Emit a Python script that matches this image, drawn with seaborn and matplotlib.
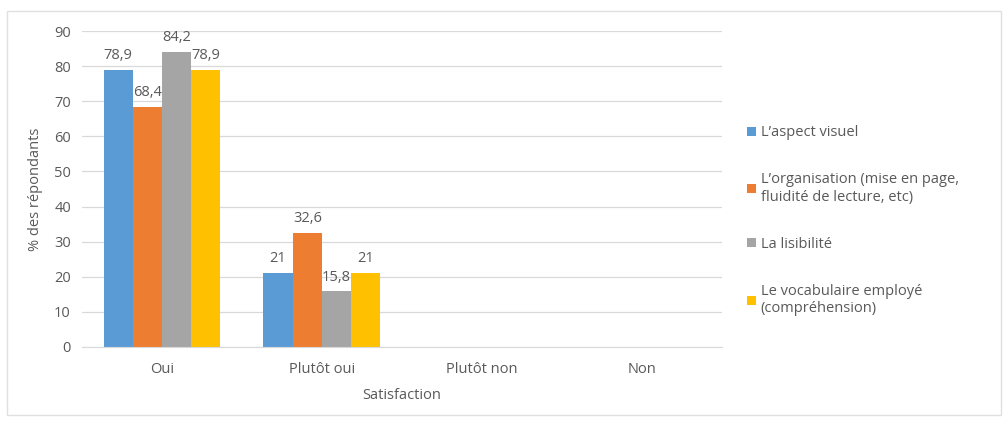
import pandas as pd
import numpy as np
import matplotlib.pyplot as plt
import seaborn as sns
from matplotlib.patches import Rectangle

categories = ['Oui', 'Plutôt oui', 'Plutôt non', 'Non']
series = ["L\u2019aspect visuel",
          "L\u2019organisation (mise en page,\nfluidité de lecture, etc)",
          "La lisibilité",
          "Le vocabulaire employé\n(compréhension)"]
aspect_visuel = [78.9, 21, 0, 0]
organisation = [68.4, 32.6, 0, 0]
lisibilite = [84.2, 15.8, 0, 0]
vocabulaire = [78.9, 21, 0, 0]
colors = ['#5B9BD5', '#ED7D31', '#A5A5A5', '#FFC000']

rows = []
for name, vals in zip(series, [aspect_visuel, organisation, lisibilite, vocabulaire]):
    for cat, v in zip(categories, vals):
        rows.append({'Satisfaction': cat, 'Série': name, 'Valeur': v})
df = pd.DataFrame(rows)

sns.set_style('white')
plt.rcParams['font.family'] = ['Open Sans', 'DejaVu Sans']
txt = '#595959'

fig = plt.figure(figsize=(10.04, 4.21), dpi=100)
ax = fig.add_axes([0.0817, 0.176, 0.637, 0.75])
sns.barplot(data=df, x='Satisfaction', y='Valeur', hue='Série', palette=colors,
            width=0.73, saturation=1, linewidth=0, ax=ax, legend=True)

for cont in ax.containers:
    labels = [('' if b.get_height() == 0 else f"{b.get_height():g}".replace('.', ','))
              for b in cont]
    ax.bar_label(cont, labels=labels, padding=5, fontsize=10.5, color=txt)

ax.set_ylim(0, 90)
ax.set_yticks(range(0, 91, 10))
ax.yaxis.grid(True, color='#D9D9D9', linewidth=0.9)
ax.set_axisbelow(True)
for s in ['top', 'right', 'left']:
    ax.spines[s].set_visible(False)
ax.spines['bottom'].set_color('#D9D9D9')
ax.tick_params(axis='both', length=0, labelsize=10.5, colors=txt, pad=8)
ax.tick_params(axis='x', pad=11)
ax.set_xlabel('Satisfaction', fontsize=10.5, color=txt, labelpad=8)
ax.set_ylabel('% des répondants', fontsize=10.5, color=txt, labelpad=8)

ax.legend(loc='center left', bbox_to_anchor=(1.02, 0.40), frameon=False,
          fontsize=10.5, labelcolor=txt, handlelength=0.6, handleheight=0.6,
          handletextpad=0.3, labelspacing=2.2)

fig.patches.append(Rectangle((0.007, 0.015), 0.99, 0.96, transform=fig.transFigure,
                             fill=False, edgecolor='#E0E0E0', linewidth=1))

plt.savefig('out.png', dpi=100)
